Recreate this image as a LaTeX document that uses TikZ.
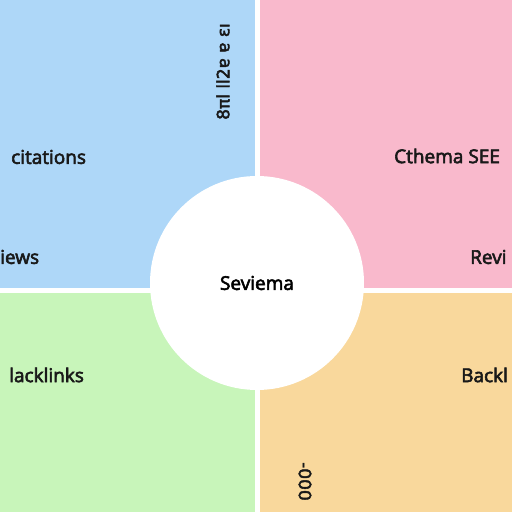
\documentclass[tikz,border=0pt]{standalone}
\usepackage{fontspec}
\setmainfont{Open Sans}
\newfontfamily\lblfont{Open Sans}[FakeBold=3]
\newfontfamily\glyphfont{DejaVu Sans}[FakeBold=2.5]
\definecolor{qblue}{RGB}{174,215,248}
\definecolor{qpink}{RGB}{249,185,204}
\definecolor{qgreen}{RGB}{200,245,186}
\definecolor{qorange}{RGB}{249,216,156}
\begin{document}
\begin{tikzpicture}[x=1pt,y=1pt,
  lbl/.style={font=\lblfont\fontsize{19}{21}\selectfont, inner sep=0pt, anchor=west, text=black!90},
  sidelbl/.style={lbl, font=\glyphfont\fontsize{17}{19}\selectfont}]
\clip (0,0) rectangle (512,512);
\fill[white] (0,0) rectangle (512,512);

\fill[qblue] (0,224) rectangle (255,512);
\fill[qpink] (260,224) rectangle (512,512);
\fill[qgreen] (0,0) rectangle (255,219);
\fill[qorange] (260,0) rectangle (512,219);

\node[circle, fill=white, minimum size=214pt, inner sep=0pt,
  font=\lblfont\fontsize{19}{21}\selectfont] (hub) at (257,229) {Seviema};

\node[lbl] (cit) at (11,355) {citations};
\node[lbl] (rev) at (0,255) {iews};
\node[lbl] (back) at (9,137) {lacklinks};
\node[lbl] (schema) at (394,356) {Cthema SEE};
\node[lbl] (revr) at (470,255) {Revi};
\node[lbl] (backr) at (461,137) {Backl};

\node[sidelbl, rotate=90] (spine) at (223,392) {8πl ll2ɐ ɐ ɛı};
\node[sidelbl, rotate=-90] (tally) at (305,50) {-000};
\end{tikzpicture}
\end{document}
